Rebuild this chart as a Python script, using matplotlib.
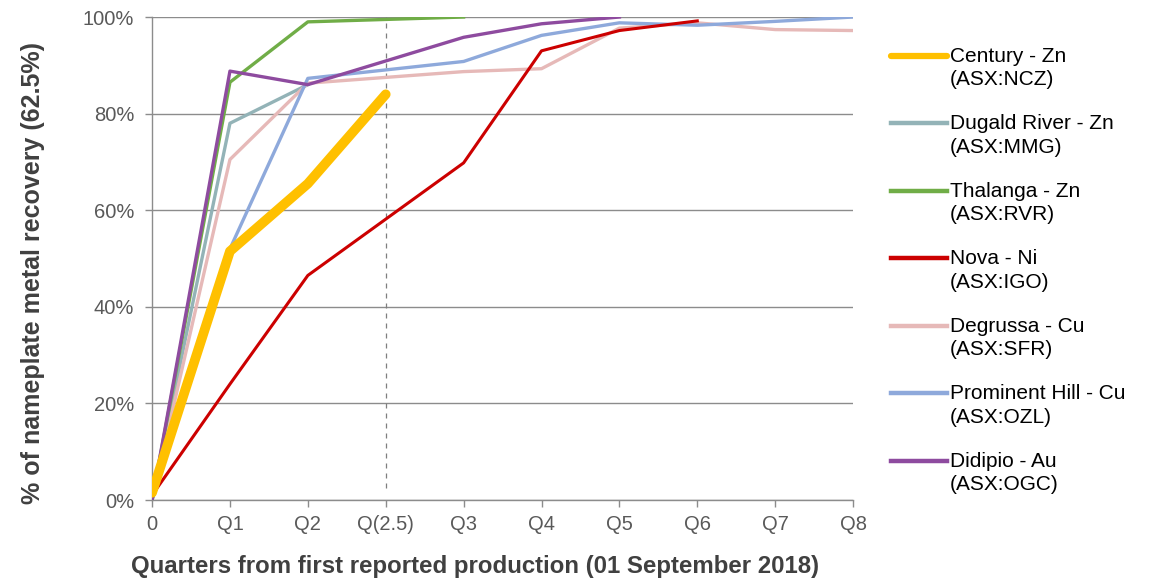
import matplotlib
matplotlib.use('Agg')
import matplotlib.pyplot as plt
import numpy as np

plt.rcParams['font.family'] = ['Liberation Sans', 'DejaVu Sans']

# category axis (Q(2.5) sits as its own evenly spaced category)
quarters = ['0', 'Q1', 'Q2', 'Q(2.5)', 'Q3', 'Q4', 'Q5', 'Q6', 'Q7', 'Q8']

century_q = ['0', 'Q1', 'Q2', 'Q(2.5)']
century = [1.5, 51.5, 65.5, 84]
dugald_q = ['0', 'Q1', 'Q2']
dugald = [0, 78, 86]
thalanga_q = ['0', 'Q1', 'Q2', 'Q3']
thalanga = [0, 86.5, 99, 100]
nova_q = ['0', 'Q1', 'Q2', 'Q3', 'Q4', 'Q5', 'Q6']
nova = [1, 24, 46.5, 69.8, 93, 97.2, 99.2]
degrussa_q = ['0', 'Q1', 'Q2', 'Q3', 'Q4', 'Q5', 'Q6', 'Q7', 'Q8']
degrussa = [0, 70.5, 86.3, 88.7, 89.3, 97.7, 98.8, 97.4, 97.2]
prominent_q = ['0', 'Q1', 'Q2', 'Q3', 'Q4', 'Q5', 'Q6', 'Q7', 'Q8']
prominent = [0, 52, 87.3, 90.8, 96.2, 98.8, 98.3, 99.1, 100]
didipio_q = ['0', 'Q1', 'Q2', 'Q3', 'Q4', 'Q5']
didipio = [0, 88.8, 86, 95.8, 98.6, 100]

def pos(qs):
    return [quarters.index(q) for q in qs]

fig = plt.figure(figsize=(11.52, 5.81), dpi=100)
ax = fig.add_axes([0.132, 0.1394, 0.6085, 0.8313])

grey = '#8c8c8c'
l_dug, = ax.plot(pos(dugald_q), dugald, color='#93B3B7', lw=2.4, zorder=3)
l_deg, = ax.plot(pos(degrussa_q), degrussa, color='#E6B9B8', lw=2.4, zorder=3)
l_pro, = ax.plot(pos(prominent_q), prominent, color='#8EA9DB', lw=2.4, zorder=4)
l_tha, = ax.plot(pos(thalanga_q), thalanga, color='#70AD47', lw=2.4, zorder=4)
l_nov, = ax.plot(pos(nova_q), nova, color='#CC0000', lw=2.2, zorder=5)
l_did, = ax.plot(pos(didipio_q), didipio, color='#8E4B9F', lw=2.4, zorder=6)
l_cen, = ax.plot(pos(century_q), century, color='#FFC000', lw=7, zorder=7,
                 solid_capstyle='round')

ax.vlines(quarters.index('Q(2.5)'), 2.5, 100, colors='#7f7f7f',
          linestyles=(0, (4, 4)), lw=0.9, zorder=2)

ax.set_xlim(0, len(quarters) - 1)
ax.set_ylim(0, 100)
ax.set_xticks(range(len(quarters)))
ax.set_xticklabels(quarters)
ax.set_yticks(np.arange(0, 101, 20))
ax.set_yticklabels([f'{v}%' for v in range(0, 101, 20)])
ax.yaxis.grid(True, color=grey, lw=1.0, zorder=0)
ax.set_axisbelow(True)
for s in ['top', 'right']:
    ax.spines[s].set_visible(False)
for s in ['left', 'bottom']:
    ax.spines[s].set_color(grey)
    ax.spines[s].set_linewidth(1.0)
ax.tick_params(axis='both', colors=grey, length=5, width=1.0, labelsize=14.5,
               labelcolor='#595959')
ax.tick_params(axis='x', pad=6)
ax.tick_params(axis='y', pad=8)

ax.set_xlabel('Quarters from first reported production (01 September 2018)',
              fontsize=17.3, fontweight='bold', color='#404040')
ax.xaxis.set_label_coords(0.461, -0.114)
ax.set_ylabel('% of nameplate metal recovery (62.5%)',
              fontsize=18, fontweight='bold', color='#404040')
ax.yaxis.set_label_coords(-0.153, 0.47)

handles = [l_cen, l_dug, l_tha, l_nov, l_deg, l_pro, l_did]
labels = ['Century - Zn\n(ASX:NCZ)', 'Dugald River - Zn\n(ASX:MMG)',
          'Thalanga - Zn\n(ASX:RVR)', 'Nova - Ni\n(ASX:IGO)',
          'Degrussa - Cu\n(ASX:SFR)', 'Prominent Hill - Cu\n(ASX:OZL)',
          'Didipio - Au\n(ASX:OGC)']
leg = fig.legend(handles, labels, loc='upper left', bbox_to_anchor=(0.766, 0.934),
                 frameon=False, fontsize=15, handlelength=2.7, handletextpad=0.15,
                 labelspacing=1.2, borderaxespad=0)
for t in leg.get_texts():
    t.set_linespacing(1.3)
for h in leg.legend_handles:
    h.set_linewidth(3.2)
    h.set_ydata(np.asarray(h.get_ydata()) + 9)
leg.legend_handles[0].set_linewidth(4.5)

fig.savefig('out.png', dpi=100)
